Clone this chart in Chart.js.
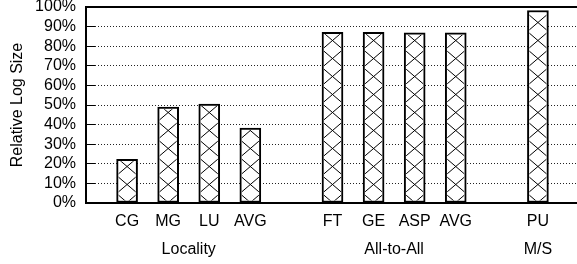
<!DOCTYPE html>
<html>
<head>
<meta charset="utf-8">
<script src="https://cdn.jsdelivr.net/npm/chart.js@4.4.0/dist/chart.umd.min.js"></script>
<style>
html, body { margin: 0; padding: 0; overflow: hidden; background: #fff; }
</style>
</head>
<body>
<canvas id="log-chart" width="580" height="264"></canvas>
<script>
// Benchmarks, blank entries are the gaps between groups
var benchmarks = ['', 'CG', 'MG', 'LU', 'AVG', '', 'FT', 'GE', 'ASP', 'AVG', '', 'PU', ''];
// Relative log size (%)
var logSize = [null, 22.3, 48.9, 50.5, 38.2, null, 87.1, 87.1, 86.8, 86.8, null, 98.2, null];
// Groups: name plus first and last benchmark index
var groupNames = ['Locality', 'All-to-All', 'M/S'];
var groupFirst = [1, 6, 11];
var groupLast = [4, 9, 11];
// y ticks in percent
var yTicks = [0, 10, 20, 30, 40, 50, 60, 70, 80, 90, 100];

var fontFamily = "'Liberation Sans', Arial, Helvetica, sans-serif";
Chart.defaults.font.family = fontFamily;
Chart.defaults.font.size = 16;
Chart.defaults.color = '#000';

// half size of one hatch diamond
var hatchW = 10.5;
var hatchH = 9;

function align(px) {
    return Math.round(px - 0.5) + 0.5;
}

// cross hatch inside each bar
var hatchPlugin = {
    id: 'hatch',
    afterDatasetsDraw: function (chart) {
        var ctx = chart.ctx;
        var meta = chart.getDatasetMeta(0);
        meta.data.forEach(function (bar, i) {
            if (logSize[i] === null) return;
            var p = bar.getProps(['x', 'y', 'base', 'width'], true);
            var left = p.x - p.width / 2;
            ctx.save();
            ctx.beginPath();
            ctx.rect(left + 2, p.y + 2, p.width - 4, p.base - p.y - 4);
            ctx.clip();
            ctx.beginPath();
            for (var j = -14; j <= 14; j++) {
                var x0 = p.x + 2 * hatchW * j;
                ctx.moveTo(x0, p.base);
                ctx.lineTo(x0 + 26 * hatchW, p.base - 26 * hatchH);
                ctx.moveTo(x0, p.base);
                ctx.lineTo(x0 - 26 * hatchW, p.base - 26 * hatchH);
            }
            ctx.lineWidth = 1;
            ctx.strokeStyle = '#000';
            ctx.stroke();
            ctx.restore();
        });
    }
};

// frame, inner tick marks and group names
var framePlugin = {
    id: 'frame',
    afterDraw: function (chart) {
        var ctx = chart.ctx;
        var a = chart.chartArea;
        var x = chart.scales.x;
        var y = chart.scales.y;
        ctx.save();
        ctx.strokeStyle = '#000';
        ctx.lineWidth = 1;
        ctx.beginPath();
        yTicks.forEach(function (v) {
            var py = align(y.getPixelForValue(v));
            ctx.moveTo(a.left, py);
            ctx.lineTo(a.left + 9, py);
        });
        ctx.stroke();
        ctx.lineWidth = 2;
        ctx.strokeRect(a.left, a.top, a.right - a.left, a.bottom - a.top);

        ctx.fillStyle = '#000';
        ctx.font = '16px ' + fontFamily;
        ctx.textAlign = 'center';
        ctx.textBaseline = 'middle';
        groupNames.forEach(function (name, g) {
            var cx = (x.getPixelForValue(groupFirst[g]) + x.getPixelForValue(groupLast[g])) / 2;
            ctx.fillText(name, cx, 250);
        });
        ctx.restore();
    }
};

var ctx = document.getElementById('log-chart').getContext('2d');
var logChart = new Chart(ctx, {
    type: 'bar',
    data: {
        labels: benchmarks,
        datasets: [{
            data: logSize,
            backgroundColor: '#fff',
            borderColor: '#000',
            borderWidth: 2,
            borderSkipped: false,
            barThickness: 21
        }]
    },
    options: {
        responsive: false,
        animation: false,
        layout: { padding: { top: 7, right: 1, left: 0, bottom: 0 } },
        plugins: {
            legend: { display: false },
            tooltip: { enabled: false }
        },
        scales: {
            x: {
                type: 'category',
                offset: false,
                grid: { display: false, drawTicks: false },
                border: { display: false },
                ticks: { autoSkip: false, maxRotation: 0, padding: 9 },
                afterFit: function (scale) {
                    scale.height = 61;
                    scale.paddingLeft = 0;
                    scale.paddingRight = 0;
                }
            },
            y: {
                min: 0,
                max: 100,
                grid: { color: '#222', lineWidth: 1, drawTicks: false },
                border: { display: false, dash: [1, 2] },
                ticks: {
                    stepSize: 10,
                    autoSkip: false,
                    padding: 10,
                    callback: function (v) { return v + '%'; }
                },
                title: {
                    display: true,
                    text: 'Relative Log Size',
                    font: { size: 16, lineHeight: 1 },
                    padding: { top: 10, bottom: 0 }
                },
                afterFit: function (scale) {
                    scale.width = 86;
                    scale.paddingTop = 0;
                    scale.paddingBottom = 0;
                }
            }
        }
    },
    plugins: [hatchPlugin, framePlugin]
});
</script>
</body>
</html>
